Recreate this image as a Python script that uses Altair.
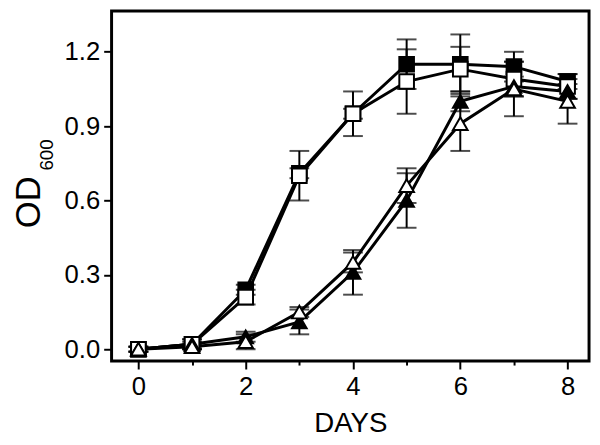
import altair as alt
import pandas as pd

days = [0, 1, 2, 3, 4, 5, 6, 7, 8]
series_names = ["filled square", "open square", "filled triangle", "open triangle"]

fs_val = [0.00, 0.02, 0.24, 0.71, 0.95, 1.15, 1.15, 1.14, 1.08]
fs_err = [0.01, 0.02, 0.02, 0.02, 0.02, 0.10, 0.12, 0.06, 0.03]
os_val = [0.00, 0.02, 0.21, 0.70, 0.95, 1.08, 1.13, 1.09, 1.06]
os_err = [0.01, 0.02, 0.03, 0.10, 0.09, 0.13, 0.09, 0.07, 0.05]
ft_val = [0.00, 0.02, 0.05, 0.11, 0.31, 0.60, 1.00, 1.06, 1.04]
ft_err = [0.01, 0.01, 0.02, 0.05, 0.09, 0.11, 0.04, 0.04, 0.03]
ot_val = [0.00, 0.01, 0.03, 0.15, 0.35, 0.66, 0.91, 1.05, 1.00]
ot_err = [0.01, 0.01, 0.03, 0.02, 0.04, 0.07, 0.11, 0.11, 0.09]

shapes = ["square", "square", "triangle-up", "triangle-up"]
fills = ["black", "white", "black", "white"]
sizes = [220, 220, 380, 380]

rows = []
for name, vals, errs in zip(series_names, [fs_val, os_val, ft_val, ot_val],
                            [fs_err, os_err, ft_err, ot_err]):
    for d, v, e in zip(days, vals, errs):
        rows.append({"series": name, "day": d, "od": v, "lo": v - e, "hi": v + e})
df = pd.DataFrame(rows)

FONT = "Liberation Sans"

x_scale = alt.Scale(domain=[-0.5, 8.4], nice=False, zero=False)
y_scale = alt.Scale(domain=[-0.048, 1.365], nice=False, zero=False)

x_axis = alt.Axis(
    values=days,
    labelExpr="datum.value % 2 == 0 ? format(datum.value, 'd') : ''",
    tickSize={"condition": {"test": "datum.value % 2 == 0", "value": 8}, "value": 4},
    tickWidth=2, tickColor="black", domain=False, grid=False,
    labelFont=FONT, labelFontSize=26, labelColor="black", labelPadding=5,
    title="DAYS", titleFont=FONT, titleFontSize=28, titleFontWeight="normal",
    titleColor="black", titleBaseline="alphabetic", titleY=71,
)
y_ticks = [0.0, 0.15, 0.3, 0.45, 0.6, 0.75, 0.9, 1.05, 1.2, 1.35]
y_axis = alt.Axis(
    values=y_ticks,
    labelExpr="round(datum.value * 100) % 30 == 0 ? format(datum.value, '.1f') : ''",
    tickSize={"condition": {"test": "round(datum.value * 100) % 30 == 0", "value": 8}, "value": 4},
    tickWidth=2, tickColor="black", domain=False, grid=False,
    labelFont=FONT, labelFontSize=26, labelColor="black", labelPadding=4,
    title=None,
)

base = alt.Chart(df)
X = alt.X("day:Q", scale=x_scale, axis=x_axis)
Y = alt.Y("od:Q", scale=y_scale, axis=y_axis)

lines = base.mark_line(color="black", strokeWidth=3).encode(
    x=X, y=Y, detail="series:N"
)
err = base.mark_rule(color="black", strokeWidth=2).encode(
    x="day:Q", y="lo:Q", y2="hi:Q"
)
caps = base.transform_fold(["lo", "hi"], as_=["which", "yv"]).mark_tick(
    orient="horizontal", size=20, thickness=2, color="black"
).encode(x="day:Q", y="yv:Q")
points = base.mark_point(opacity=1, stroke="black", strokeWidth=2).encode(
    x="day:Q", y="od:Q",
    shape=alt.Shape("series:N", scale=alt.Scale(domain=series_names, range=shapes), legend=None),
    fill=alt.Fill("series:N", scale=alt.Scale(domain=series_names, range=fills), legend=None),
    size=alt.Size("series:N", scale=alt.Scale(domain=series_names, range=sizes), legend=None),
)

title_df = pd.DataFrame({"t": ["OD"]})
od_text = alt.Chart(title_df).mark_text(
    font=FONT, fontSize=35, angle=270, align="center", baseline="middle", color="black"
).encode(text="t:N", x=alt.value(-84), y=alt.value(194))
sub_df = pd.DataFrame({"t": ["600"]})
sub_text = alt.Chart(sub_df).mark_text(
    font=FONT, fontSize=19, angle=270, align="center", baseline="middle", color="black"
).encode(text="t:N", x=alt.value(-65), y=alt.value(146))

chart = alt.layer(lines, err, caps, points, od_text, sub_text).properties(
    width=484, height=355,
    autosize=alt.AutoSizeParams(type="none"),
    padding={"left": 105, "top": 0, "right": 3, "bottom": 74},
    background="white",
).configure_view(stroke="black", strokeWidth=3)

chart.save("out.html", embed_options={"renderer": "svg", "actions": False})
